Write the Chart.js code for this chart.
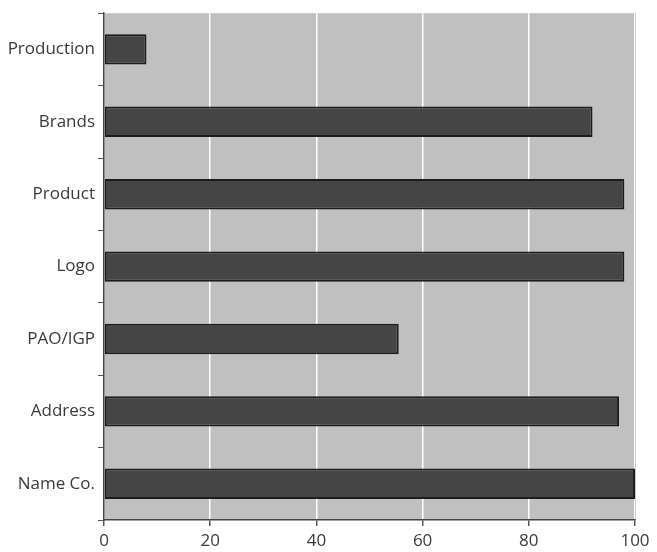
<!DOCTYPE html>
<html>
<head>
<meta charset="utf-8">
<script src="https://cdn.jsdelivr.net/npm/chart.js@4/dist/chart.umd.min.js"></script>
<style>
  html, body { margin: 0; padding: 0; background: #fff; }
  #wrap { width: 657px; height: 552px; }
</style>
</head>
<body>
<div id="wrap"><canvas id="chart" width="657" height="552"></canvas></div>
<script>
// -----------------------------
// DATA
// -----------------------------
const categories = ["Production", "Brands", "Product", "Logo", "PAO/IGP", "Address", "Name Co."];
const values = [8, 92, 98, 98, 55.5, 97, 100];
const xTicks = [0, 20, 40, 60, 80, 100];

// grey plot background
const plotBg = {
    id: "plotBg",
    beforeDraw(chart) {
        const a = chart.chartArea;
        const ctx = chart.ctx;
        ctx.save();
        ctx.fillStyle = "#c0c0c0";
        ctx.fillRect(a.left, a.top, a.right - a.left, a.bottom - a.top);
        ctx.strokeStyle = "#9a9a9a";
        ctx.lineWidth = 1;
        ctx.beginPath();
        ctx.moveTo(a.right + 0.5, a.top);
        ctx.lineTo(a.right + 0.5, a.bottom);
        ctx.stroke();
        ctx.restore();
    }
};

new Chart(document.getElementById("chart").getContext("2d"), {
    type: "bar",
    data: {
        labels: categories,
        datasets: [{
            data: values,
            backgroundColor: "#454545",
            borderColor: "#1c1c1c",
            borderWidth: 2,
            borderSkipped: false,
            barPercentage: 0.42,
            categoryPercentage: 1
        }]
    },
    options: {
        indexAxis: "y",
        responsive: false,
        animation: false,
        layout: { padding: { top: 13, right: 22, left: 0, bottom: 0 } },
        plugins: {
            legend: { display: false },
            tooltip: { enabled: false }
        },
        scales: {
            x: {
                min: 0,
                max: 100,
                afterBuildTicks(scale) {
                    scale.ticks = xTicks.map(v => ({ value: v }));
                },
                afterFit(scale) { scale.height = 32; },
                grid: {
                    color: "#ffffff",
                    lineWidth: 1.5,
                    tickColor: "#555",
                    tickLength: 6
                },
                border: { display: true, color: "#444", width: 1.5 },
                ticks: {
                    color: "#3a3a3a",
                    padding: 5,
                    font: { family: "Open Sans", size: 17 }
                }
            },
            y: {
                afterFit(scale) { scale.width = 104; },
                grid: {
                    offset: true,
                    drawOnChartArea: false,
                    color: "#555",
                    tickLength: 6
                },
                border: { display: true, color: "#444", width: 1.5 },
                ticks: {
                    color: "#3a3a3a",
                    padding: 3,
                    font: { family: "Open Sans", size: 17 }
                }
            }
        }
    },
    plugins: [plotBg]
});
</script>
</body>
</html>
